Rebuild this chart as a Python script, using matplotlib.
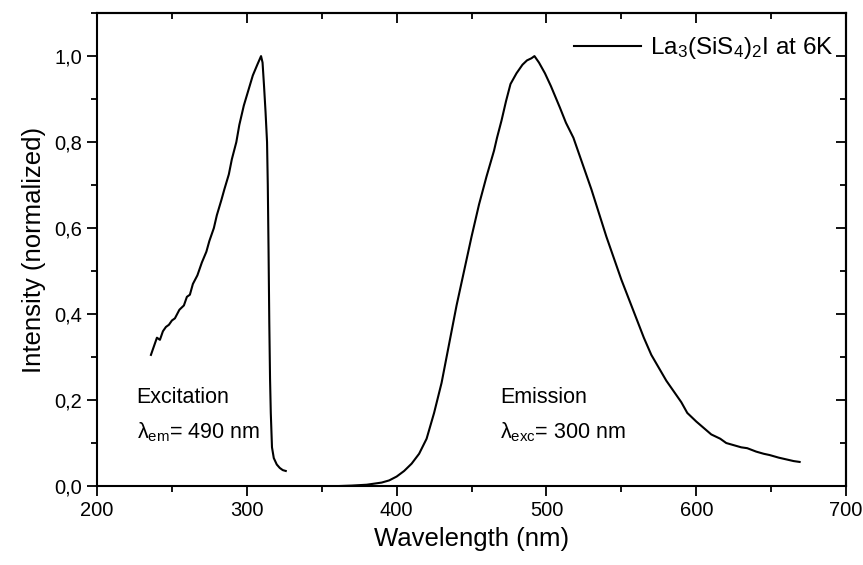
import matplotlib
matplotlib.use("Agg")
import matplotlib.pyplot as plt
from matplotlib.ticker import MultipleLocator, FuncFormatter

plt.rcParams['font.family'] = ['Liberation Sans', 'DejaVu Sans']
plt.rcParams['mathtext.fontset'] = 'custom'
plt.rcParams['mathtext.rm'] = 'Liberation Sans'
plt.rcParams['mathtext.it'] = 'Liberation Sans:italic'
plt.rcParams['mathtext.bf'] = 'Liberation Sans:bold'

# Excitation spectrum (lambda_em = 490 nm)
exc_wl = [236, 238, 240, 242, 244, 246, 248, 250, 252, 255, 258, 260, 262, 264,
          267, 270, 273, 275, 278, 280, 283, 285, 288, 290, 293, 295, 298, 301,
          304, 307, 309.5, 310.5, 311.5, 312.5, 313.5, 314, 314.5, 315, 315.5,
          316, 316.8, 318, 320, 322, 324, 326]
exc_int = [0.305, 0.325, 0.345, 0.34, 0.36, 0.37, 0.375, 0.385, 0.39, 0.41, 0.42,
           0.44, 0.445, 0.47, 0.49, 0.52, 0.545, 0.57, 0.60, 0.63, 0.665, 0.69,
           0.725, 0.76, 0.80, 0.84, 0.885, 0.92, 0.955, 0.98, 1.0, 0.985, 0.93,
           0.87, 0.80, 0.70, 0.55, 0.38, 0.25, 0.17, 0.09, 0.065, 0.05, 0.042,
           0.037, 0.035]

# Emission spectrum (lambda_exc = 300 nm)
em_wl = [362, 370, 380, 390, 395, 400, 405, 410, 415, 420, 425, 430, 435, 440,
         445, 450, 455, 460, 465, 467, 470, 473, 476, 480, 484, 487, 490, 492,
         495, 499, 503, 506, 509, 513, 518, 522, 526, 530, 535, 540, 545, 550,
         555, 560, 565, 570, 575, 580, 585, 590, 594, 600, 605, 610, 616, 620,
         625, 630, 634, 640, 645, 649, 655, 660, 665, 669]
em_int = [0.0, 0.001, 0.003, 0.008, 0.013, 0.022, 0.035, 0.052, 0.075, 0.11,
          0.17, 0.24, 0.33, 0.42, 0.50, 0.58, 0.655, 0.72, 0.78, 0.81, 0.85,
          0.895, 0.935, 0.96, 0.98, 0.99, 0.995, 1.0, 0.985, 0.96, 0.93, 0.905,
          0.88, 0.845, 0.81, 0.77, 0.73, 0.69, 0.635, 0.58, 0.53, 0.48, 0.435,
          0.39, 0.345, 0.305, 0.275, 0.245, 0.22, 0.195, 0.17, 0.15, 0.135,
          0.12, 0.11, 0.10, 0.095, 0.09, 0.088, 0.08, 0.075, 0.072, 0.066,
          0.062, 0.058, 0.056]

legend_label = r"La$_3$(SiS$_4$)$_2$I at 6K"
x_ticks = [200, 300, 400, 500, 600, 700]
y_ticks = [0.0, 0.2, 0.4, 0.6, 0.8, 1.0]

fig = plt.figure(figsize=(8.63, 5.65), dpi=100)
ax = fig.add_axes([0.1124, 0.1398, 0.868, 0.837])

ax.plot(exc_wl, exc_int, color='black', lw=1.5, label=legend_label)
ax.plot(em_wl, em_int, color='black', lw=1.5)

ax.set_xlim(200, 700)
ax.set_ylim(0, 1.1)
ax.set_xticks(x_ticks)
ax.set_yticks(y_ticks)
ax.xaxis.set_minor_locator(MultipleLocator(50))
ax.yaxis.set_minor_locator(MultipleLocator(0.1))
ax.yaxis.set_major_formatter(FuncFormatter(lambda v, p: f"{v:.1f}".replace('.', ',')))

for s in ax.spines.values():
    s.set_linewidth(1.5)

ax.tick_params(which='both', direction='out', top=False, right=False, width=1.3,
               labelsize=14.5)
ax.tick_params(which='major', length=7)
ax.tick_params(which='minor', length=4)

# mirrored inward ticks on top and right
axt = ax.secondary_xaxis('top')
axt.set_xticks(x_ticks)
axt.xaxis.set_minor_locator(MultipleLocator(50))
axt.tick_params(which='both', direction='in', labeltop=False, width=1.3)
axt.tick_params(which='major', length=7)
axt.tick_params(which='minor', length=4)
axt.spines['top'].set_linewidth(1.5)
axr = ax.secondary_yaxis('right')
axr.set_yticks(y_ticks)
axr.yaxis.set_minor_locator(MultipleLocator(0.1))
axr.tick_params(which='both', direction='in', labelright=False, width=1.3)
axr.tick_params(which='major', length=7)
axr.tick_params(which='minor', length=4)
axr.spines['right'].set_linewidth(1.5)

ax.set_xlabel('Wavelength (nm)', fontsize=18.5, labelpad=5)
ax.set_ylabel('Intensity (normalized)', fontsize=18.5, labelpad=6)

ax.text(226.5, 0.205, 'Excitation', fontsize=15.5, va='center', ha='left')
ax.text(226.5, 0.125, r'λ$_{\mathrm{em}}$= 490 nm', fontsize=15.5, va='center', ha='left')
ax.text(469, 0.205, 'Emission', fontsize=15.5, va='center', ha='left')
ax.text(469, 0.125, r'λ$_{\mathrm{exc}}$= 300 nm', fontsize=15.5, va='center', ha='left')

ax.legend(loc='center right', bbox_to_anchor=(0.983, 0.926), frameon=False,
          fontsize=17.5, handlelength=2.75, handletextpad=0.35, borderaxespad=0,
          borderpad=0)

fig.savefig('out.png', dpi=100)
